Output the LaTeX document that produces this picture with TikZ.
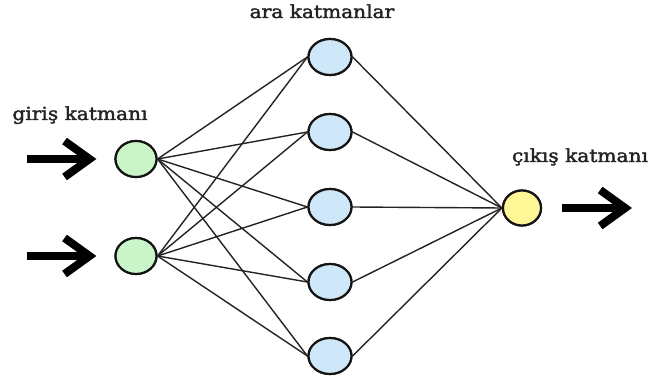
\documentclass[tikz,border=0pt]{standalone}
\usepackage{fontspec}
\setmainfont{DejaVu Serif}[FakeStretch=1.12, FakeBold=2]
\usetikzlibrary{arrows.meta,shapes.geometric}

\definecolor{inputfill}{RGB}{202,245,200}
\definecolor{hiddenfill}{RGB}{206,232,250}
\definecolor{outputfill}{RGB}{255,246,150}
\definecolor{edgegray}{RGB}{35,35,35}
\definecolor{labelgray}{RGB}{35,35,35}

\tikzset{
  neuron/.style={ellipse, draw=black!92, line width=2.2pt, inner sep=0pt},
  innode/.style={neuron, fill=inputfill, minimum width=41pt, minimum height=36pt},
  hidnode/.style={neuron, fill=hiddenfill, minimum width=43pt, minimum height=36pt},
  outnode/.style={neuron, fill=outputfill, minimum width=38pt, minimum height=35pt},
  link/.style={draw=edgegray, line width=1.4pt},
  bigarrow/.style={line width=8pt, -{Straight Barb[length=25pt,width=36pt]}},
  layerlabel/.style={anchor=base, text=labelgray, inner sep=0pt,
                     font=\fontsize{18}{18}\selectfont}
}

\begin{document}
\begin{tikzpicture}[x=1pt, y=-1pt]
  \useasboundingbox (0,0) rectangle (657,385);

  % layer captions
  \node[layerlabel] (lin)  at (80,120)  {giriş katmanı};
  \node[layerlabel] (lhid) at (322,18)  {ara katmanlar};
  \node[layerlabel] (lout) at (580,162) {çıkış katmanı};

  % input layer
  \node[innode] (i1) at (136,159) {};
  \node[innode] (i2) at (136,256) {};

  % hidden layer
  \foreach \k/\y in {1/57, 2/132, 3/207, 4/282, 5/356}
    \node[hidnode] (h\k) at (330,\y) {};

  % output layer
  \node[outnode] (o) at (522,208) {};

  % connections
  \foreach \i in {1,2}
    \foreach \k in {1,...,5}
      \draw[link] (i\i.east) -- (h\k.west);
  \foreach \k in {1,...,5}
    \draw[link] (h\k.east) -- (o.west);

  % redraw nodes above the links
  \node[innode] at (i1) {};
  \node[innode] at (i2) {};
  \foreach \k in {1,...,5}
    \node[hidnode] at (h\k) {};
  \node[outnode] at (o) {};

  % signal arrows
  \coordinate (a1s) at (27,159);
  \coordinate (a2s) at (27,256);
  \coordinate (aos) at (562,208);
  \coordinate (aoe) at (632,208);
  \draw[bigarrow] (a1s) -- ([xshift=-18pt]i1.west);
  \draw[bigarrow] (a2s) -- ([xshift=-18pt]i2.west);
  \draw[bigarrow] (aos) -- (aoe);
\end{tikzpicture}
\end{document}
